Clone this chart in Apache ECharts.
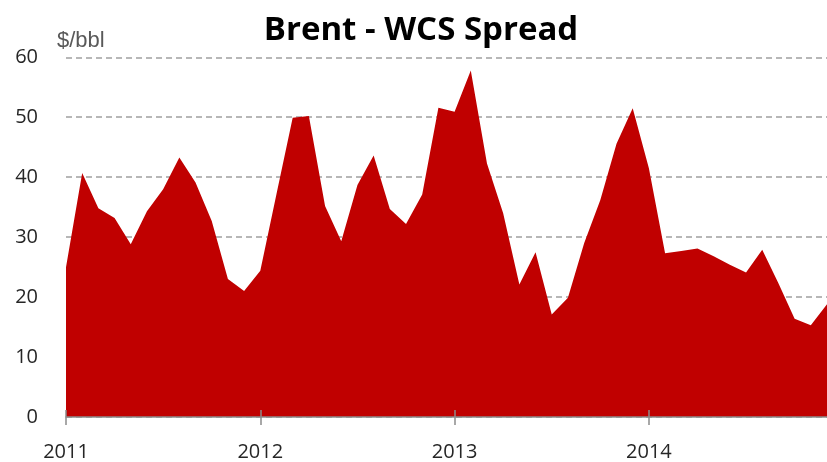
<!DOCTYPE html>
<html>
<head>
<meta charset="utf-8">
<script src="https://cdn.jsdelivr.net/npm/echarts@6/dist/echarts.min.js"></script>
<style>
html,body{margin:0;padding:0;background:#fff;}
#chart{width:827px;height:462px;}
</style>
</head>
<body>
<div id="chart"></div>
<script>
// Months Jan 2011 .. Dec 2014
const years = ["2011", "2012", "2013", "2014"];
const months = ["01","02","03","04","05","06","07","08","09","10","11","12"];
const categories = [];
years.forEach(y => months.forEach(m => categories.push(y + "-" + m)));

// Brent - WCS spread, $/bbl
const spread = [
  25.0, 40.7, 34.8, 33.2, 28.8, 34.3, 38.0, 43.3, 39.1, 32.7, 23.0, 21.0,
  24.4, 37.2, 49.9, 50.2, 35.2, 29.3, 38.7, 43.6, 34.7, 32.2, 37.1, 51.6,
  50.9, 57.8, 42.3, 34.0, 22.1, 27.5, 17.1, 19.9, 29.0, 36.2, 45.6, 51.5,
  41.5, 27.3, 27.7, 28.1, 26.8, 25.4, 24.1, 27.9, 22.3, 16.4, 15.3, 18.8
];

const yMin = 0, yMax = 60, yStep = 10;
const titleText = "Brent - WCS Spread";
const unitText = "$/bbl";

const chart = echarts.init(document.getElementById('chart'), null, {renderer: 'canvas'});
const labelColor = '#262626';
const fontFam = '"Open Sans", "DejaVu Sans", sans-serif';

chart.setOption({
  animation: false,
  backgroundColor: '#ffffff',
  title: {
    text: titleText,
    left: 416, top: 9,
    textAlign: 'center',
    textStyle: {fontFamily: fontFam, fontWeight: 'bold', fontSize: 33, color: '#000'}
  },
  graphic: [{
    type: 'text', left: 57, top: 30,
    style: {text: unitText, fontFamily: '"Liberation Sans", Arial, sans-serif', fontSize: 22, fill: '#595959'}
  }],
  grid: {left: 66, right: 0, top: 57.3, bottom: 44.3, containLabel: false},
  xAxis: [{
    type: 'category',
    data: categories,
    boundaryGap: false,
    z: 10,
    axisLine: {show: true, lineStyle: {color: '#8c8c8c', width: 1.5}},
    axisTick: {show: true, interval: 11, length: 8, lineStyle: {color: '#8c8c8c', width: 1.5}},
    axisLabel: {
      interval: 11, margin: 25,
      fontFamily: fontFam, fontSize: 20, color: labelColor,
      formatter: v => v.slice(0, 4)
    },
    splitLine: {show: false}
  }, {
    type: 'category',
    data: categories,
    boundaryGap: false,
    position: 'bottom',
    z: 10,
    axisLine: {show: false},
    axisTick: {show: true, inside: true, interval: 11, length: 7, lineStyle: {color: '#8c8c8c', width: 1.5}},
    axisLabel: {show: false},
    splitLine: {show: false}
  }],
  yAxis: {
    type: 'value',
    min: yMin, max: yMax, interval: yStep,
    axisLine: {show: false},
    axisTick: {show: false},
    axisLabel: {margin: 28, fontFamily: fontFam, fontSize: 20, color: labelColor},
    splitLine: {show: true, lineStyle: {color: '#a0a0a0', width: 1.5, type: [6, 4]}}
  },
  series: [{
    type: 'line',
    data: spread,
    symbol: 'none',
    lineStyle: {width: 0},
    areaStyle: {color: '#c00000', opacity: 1},
    itemStyle: {color: '#c00000'},
    z: 2
  }]
});
</script>
</body>
</html>
